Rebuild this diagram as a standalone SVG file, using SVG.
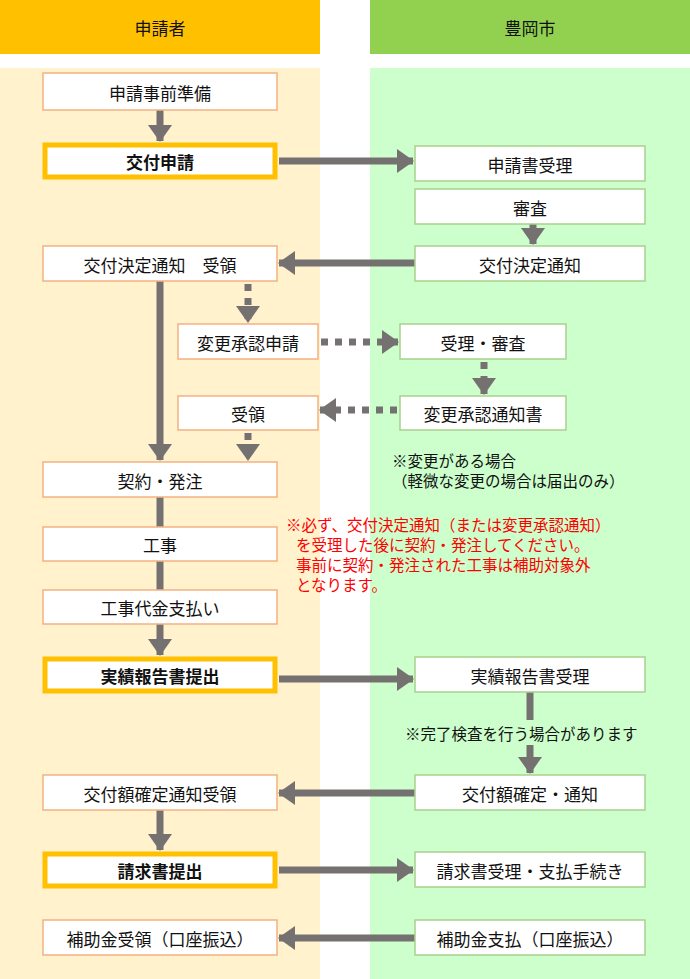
<svg xmlns="http://www.w3.org/2000/svg" width="690" height="979" viewBox="0 0 690 979">
<style>
text{font-family:"Noto Sans CJK JP","Noto Sans",sans-serif;font-size:17px;fill:#111;text-anchor:middle;dominant-baseline:central}
.l{fill:#fff;stroke:#F4B183;stroke-width:1.5}
.r{fill:#fff;stroke:#A9D18E;stroke-width:1.5}
.t{fill:#fff;stroke:#FFC000;stroke-width:5}
.b{font-weight:bold}
.a{stroke:#767171;stroke-width:7;fill:none}
.d{stroke:#767171;stroke-width:7;fill:none;stroke-dasharray:7 7}
.n{font-size:15.5px;text-anchor:start}
.red{fill:#FF0000;font-size:15.5px;text-anchor:start}
</style>
<defs><marker id="m" markerUnits="userSpaceOnUse" markerWidth="24" markerHeight="24" refX="16" refY="12" orient="auto"><path d="M0,0 L17,12 L0,24 Z" fill="#767171"/></marker></defs>
<rect x="0" y="0" width="320" height="54" fill="#FFC000"/>
<rect x="370" y="0" width="320" height="54" fill="#92D050"/>
<text x="160" y="27">申請者</text>
<text x="530" y="27">豊岡市</text>
<rect x="0" y="68" width="320" height="911" fill="#FFF2CC"/>
<rect x="370" y="68" width="320" height="911" fill="#CCFFCC"/>
<g id="connectors">
<path class="a" d="M160,110V141" marker-end="url(#m)"/>
<path class="a" d="M279,161H413" marker-end="url(#m)"/>
<path class="a" d="M533,224V244" marker-end="url(#m)"/>
<path class="a" d="M415,263H279" marker-end="url(#m)"/>
<path class="a" d="M160,281V460" marker-end="url(#m)"/>
<path class="d" d="M248,284V322" marker-end="url(#m)"/>
<path class="d" d="M321,342H398" marker-end="url(#m)"/>
<path class="d" d="M484,362V394" marker-end="url(#m)"/>
<path class="d" d="M397,410H320" marker-end="url(#m)"/>
<path class="d" d="M248,433V460" marker-end="url(#m)"/>
<path class="a" d="M160,497V527M160,561V590"/>
<path class="a" d="M160,624V655" marker-end="url(#m)"/>
<path class="a" d="M279,679H413" marker-end="url(#m)"/>
<path class="a" d="M530,692V720"/>
<path class="a" d="M530,745V773" marker-end="url(#m)"/>
<path class="a" d="M415,793H279" marker-end="url(#m)"/>
<path class="a" d="M160,810V850" marker-end="url(#m)"/>
<path class="a" d="M279,870H413" marker-end="url(#m)"/>
<path class="a" d="M415,938H279" marker-end="url(#m)"/>
</g>
<g id="n1"><rect class="l" x="43" y="73" width="234" height="37"/><text x="160" y="92">申請事前準備</text></g>
<g id="n2"><rect class="t" x="45" y="145" width="230" height="32"/><text class="b" x="160" y="161">交付申請</text></g>
<g id="n3"><rect class="r" x="415" y="146" width="230" height="35"/><text x="530" y="164">申請書受理</text></g>
<g id="n4"><rect class="r" x="415" y="189" width="230" height="35"/><text x="530" y="207">審査</text></g>
<g id="n5"><rect class="r" x="415" y="246" width="230" height="35"/><text x="530" y="264">交付決定通知</text></g>
<g id="n6"><rect class="l" x="43" y="246" width="234" height="35"/><text x="160" y="264">交付決定通知　受領</text></g>
<g id="n7"><rect class="l" x="178" y="324" width="140" height="35"/><text x="248" y="342">変更承認申請</text></g>
<g id="n8"><rect class="r" x="400" y="324" width="166" height="35"/><text x="483" y="342">受理・審査</text></g>
<g id="n9"><rect class="l" x="178" y="396" width="140" height="34"/><text x="248" y="413">受領</text></g>
<g id="n10"><rect class="r" x="400" y="396" width="166" height="34"/><text x="483" y="413">変更承認通知書</text></g>
<g id="n11"><rect class="l" x="43" y="462" width="234" height="35"/><text x="160" y="480">契約・発注</text></g>
<g id="n12"><rect class="l" x="43" y="527" width="234" height="34"/><text x="160" y="544">工事</text></g>
<g id="n13"><rect class="l" x="43" y="590" width="234" height="34"/><text x="160" y="607">工事代金支払い</text></g>
<g id="n14"><rect class="t" x="45" y="659" width="230" height="32"/><text class="b" x="160" y="675">実績報告書提出</text></g>
<g id="n15"><rect class="r" x="415" y="657" width="230" height="35"/><text x="530" y="675">実績報告書受理</text></g>
<g id="n16"><rect class="r" x="415" y="775" width="230" height="35"/><text x="530" y="793">交付額確定・通知</text></g>
<g id="n17"><rect class="l" x="43" y="775" width="234" height="35"/><text x="160" y="793">交付額確定通知受領</text></g>
<g id="n18"><rect class="t" x="45" y="854" width="230" height="32"/><text class="b" x="160" y="870">請求書提出</text></g>
<g id="n19"><rect class="r" x="415" y="852" width="230" height="35"/><text x="530" y="870">請求書受理・支払手続き</text></g>
<g id="n20"><rect class="l" x="43" y="920" width="234" height="35"/><text x="160" y="938">補助金受領（口座振込）</text></g>
<g id="n21"><rect class="r" x="415" y="920" width="230" height="35"/><text x="530" y="938">補助金支払（口座振込）</text></g>
<text class="n" x="392" y="460">※変更がある場合</text>
<text class="n" x="392" y="480">（軽微な変更の場合は届出のみ）</text>
<text class="n" x="405" y="733">※完了検査を行う場合があります</text>
<text class="red" x="286" y="524">※必ず、交付決定通知（または変更承認通知）</text>
<text class="red" x="296" y="544">を受理した後に契約・発注してください。</text>
<text class="red" x="296" y="564">事前に契約・発注された工事は補助対象外</text>
<text class="red" x="296" y="584">となります。</text>
</svg>
